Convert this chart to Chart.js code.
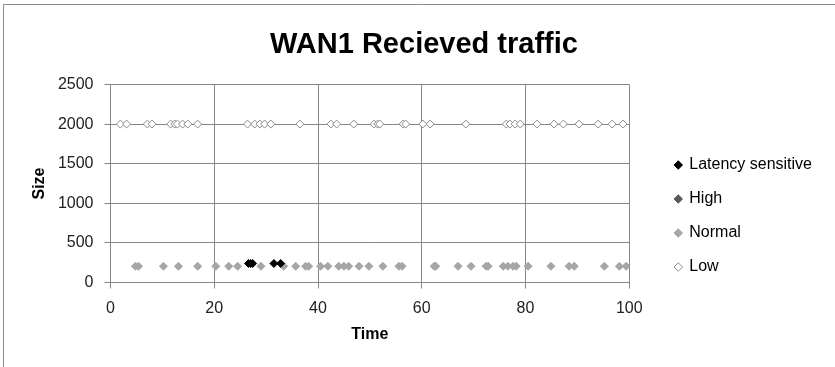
<!DOCTYPE html>
<html><head><meta charset="utf-8">
<script src="https://cdn.jsdelivr.net/npm/chart.js@4.4.1/dist/chart.umd.min.js"></script>
<style>html,body{margin:0;padding:0;background:#fff;}canvas{display:block;}</style>
</head><body>
<canvas id="c" width="835" height="367"></canvas>
<script>
const chartTitle = 'WAN1 Recieved traffic';
const xAxisTitle = 'Time';
const yAxisTitle = 'Size';
const seriesNames = ['Latency sensitive', 'High', 'Normal', 'Low'];
const xTickStep = 20, xMin = 0, xMax = 100;
const yTickStep = 500, yMin = 0, yMax = 2500;

const latencyTime = [26.6, 27.0, 27.4, 31.5, 32.8];
const latencySize = [240, 240, 240, 240, 240];

const highTime = [];
const highSize = [];

const normalTime = [4.8, 5.4, 10.2, 13.1, 16.8, 20.3, 22.8, 24.5, 29.0, 33.4, 35.7, 37.6, 38.2, 40.5, 41.9, 44.0, 45.0, 45.9, 47.9, 49.8, 52.5, 55.6, 56.2, 62.4, 62.7, 67.0, 69.5, 72.4, 72.8, 75.7, 76.6, 77.6, 78.2, 80.5, 84.9, 88.4, 89.4, 95.2, 98.1, 99.4];
const normalSize = [205, 205, 205, 205, 205, 205, 205, 205, 205, 205, 205, 205, 205, 205, 205, 205, 205, 205, 205, 205, 205, 205, 205, 205, 205, 205, 205, 205, 205, 205, 205, 205, 205, 205, 205, 205, 205, 205, 205, 205];

const lowTime = [1.9, 3.1, 7.1, 8.0, 11.6, 12.4, 12.9, 13.9, 14.9, 16.8, 26.4, 27.8, 28.8, 29.7, 30.9, 36.5, 42.5, 43.6, 46.9, 50.8, 51.5, 51.9, 56.4, 56.9, 60.2, 61.6, 68.5, 76.3, 77.0, 78.0, 79.0, 82.2, 85.5, 87.3, 90.3, 94.0, 96.7, 98.8];
const lowSize = [2000, 2000, 2000, 2000, 2000, 2000, 2000, 2000, 2000, 2000, 2000, 2000, 2000, 2000, 2000, 2000, 2000, 2000, 2000, 2000, 2000, 2000, 2000, 2000, 2000, 2000, 2000, 2000, 2000, 2000, 2000, 2000, 2000, 2000, 2000, 2000, 2000, 2000];

const F = '"Liberation Sans", Arial, sans-serif';
const GRID = '#868686';

function pts(xs, ys) { return xs.map((x, i) => ({x: x, y: ys[i]})); }

const borderPlugin = {
  id: 'frame',
  beforeDraw(chart) {
    const ctx = chart.ctx;
    ctx.save();
    ctx.strokeStyle = '#8c8c8c';
    ctx.lineWidth = 1;
    ctx.beginPath();
    ctx.moveTo(3.5, chart.height);
    ctx.lineTo(3.5, 4.5);
    ctx.lineTo(chart.width, 4.5);
    ctx.stroke();
    ctx.restore();
  }
};

new Chart(document.getElementById('c'), {
  type: 'scatter',
  data: {
    datasets: [
      {label: seriesNames[0], data: pts(latencyTime, latencySize), pointStyle: 'rectRot', pointRadius: 4, backgroundColor: '#000000', borderColor: '#000000', borderWidth: 1},
      {label: seriesNames[1], data: pts(highTime, highSize), pointStyle: 'rectRot', pointRadius: 4, backgroundColor: '#595959', borderColor: '#595959', borderWidth: 1},
      {label: seriesNames[2], data: pts(normalTime, normalSize), pointStyle: 'rectRot', pointRadius: 4, backgroundColor: '#a6a6a6', borderColor: '#a6a6a6', borderWidth: 1},
      {label: seriesNames[3], data: pts(lowTime, lowSize), pointStyle: 'rectRot', pointRadius: 4, backgroundColor: '#ffffff', borderColor: '#8c8c8c', borderWidth: 1}
    ]
  },
  options: {
    responsive: false,
    animation: false,
    devicePixelRatio: 1,
    layout: {padding: {left: 26, right: 13, top: 0, bottom: 0}},
    plugins: {
      title: {display: true, text: chartTitle, color: '#000', font: {family: F, size: 29, weight: 'bold', lineHeight: 1.2}, padding: {top: 27.6, bottom: 22.1}},
      legend: {
        position: 'right', align: 'start', maxWidth: 220,
        title: {display: true, text: '', font: {size: 10, lineHeight: 1}, padding: {top: 129, bottom: 0}},
        labels: {usePointStyle: true, boxWidth: 6, boxHeight: 6, padding: 18, color: '#000', font: {family: F, size: 16}}
      },
      tooltip: {enabled: false}
    },
    scales: {
      x: {
        type: 'linear', position: 'bottom', min: xMin, max: xMax,
        ticks: {stepSize: xTickStep, color: '#222', font: {family: F, size: 16}, padding: 10, maxRotation: 0, callback: v => String(v)},
        grid: {color: GRID, tickLength: 6},
        border: {color: GRID},
        title: {display: true, text: xAxisTitle, color: '#000', font: {family: F, size: 16, weight: 'bold', lineHeight: 1.2}, padding: {top: 0, bottom: 22.4}},
        afterFit(s) { s.height = 84.5; }
      },
      y: {
        type: 'linear', position: 'left', min: yMin, max: yMax,
        ticks: {stepSize: yTickStep, color: '#222', font: {family: F, size: 16}, padding: 11, callback: v => String(v)},
        grid: {color: GRID, tickLength: 6},
        border: {color: GRID},
        title: {display: true, text: yAxisTitle, color: '#000', font: {family: F, size: 16, weight: 'bold', lineHeight: 1.2}, padding: {top: 4.4, bottom: 0}},
        afterFit(s) { s.width = 84.5; }
      },
      gap: {
        type: 'linear', position: 'right', display: true,
        grid: {display: false}, border: {display: false}, ticks: {display: false},
        afterFit(s) { s.width = 28; }
      }
    }
  },
  plugins: [borderPlugin]
});
</script>
</body></html>
